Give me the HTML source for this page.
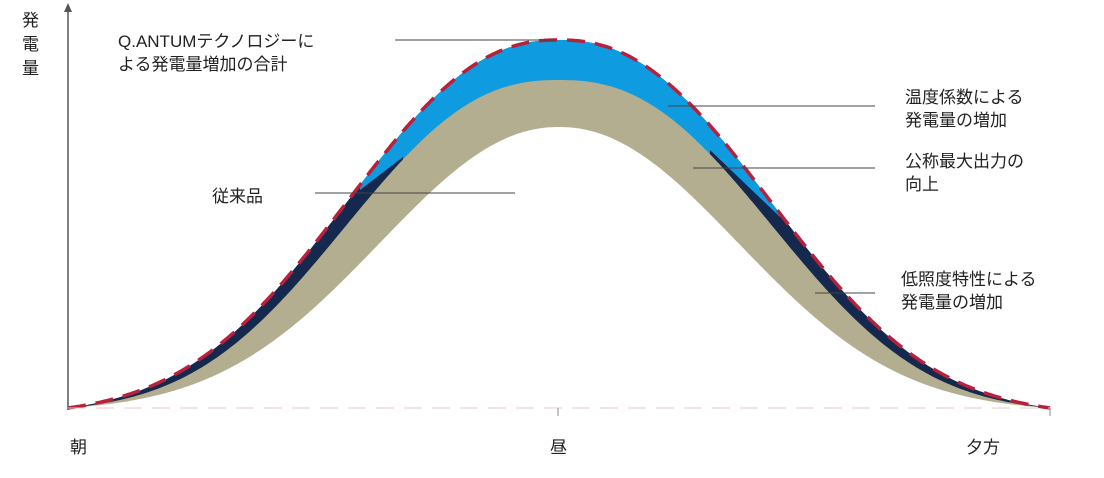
<!DOCTYPE html>
<html><head><meta charset="utf-8"><style>
body{margin:0;background:#fff;}
svg{display:block}
text{font-family:"Liberation Sans","Noto Sans CJK JP",sans-serif;font-size:17px;fill:#222;}
</style></head><body>
<svg id="s" width="1104" height="478" viewBox="0 0 1104 478">
<defs><clipPath id="cb"><polygon points="360,0 360,190 403,157 403,478 710,478 710,150 780,217 780,0"/></clipPath></defs>
<g id="g"></g>
<line x1="68" y1="10" x2="68" y2="410" stroke="#555" stroke-width="1.5"/>
<polygon points="64,12 68,3 72,12" fill="#555"/>
<line x1="68" y1="408" x2="1050" y2="408" stroke="#e8c8cc" stroke-width="1" stroke-dasharray="18 10"/>
<line x1="558" y1="408" x2="558" y2="416" stroke="#888"/>
<line x1="1050" y1="408" x2="1050" y2="416" stroke="#888"/>
<line x1="395" y1="40" x2="555" y2="40" stroke="#444"/>
<line x1="315" y1="193" x2="515" y2="193" stroke="#444"/>
<line x1="668" y1="106" x2="875" y2="106" stroke="#444"/>
<line x1="693" y1="168" x2="875" y2="168" stroke="#444"/>
<line x1="815" y1="293" x2="875" y2="293" stroke="#444"/>
<text x="22" y="26">発</text><text x="22" y="50">電</text><text x="22" y="74">量</text>
<text x="118" y="47">Q.ANTUMテクノロジーに</text>
<text x="118" y="70">よる発電量増加の合計</text>
<text x="212" y="202">従来品</text>
<text x="905" y="103">温度係数による</text>
<text x="905" y="126">発電量の増加</text>
<text x="905" y="167">公称最大出力の</text>
<text x="905" y="190">向上</text>
<text x="901" y="285">低照度特性による</text>
<text x="901" y="308">発電量の増加</text>
<text x="70" y="453">朝</text>
<text x="550" y="453">昼</text>
<text x="966" y="453">夕方</text>
</svg>
<script>
function f(h,a,p,d){var g=Math.exp(-Math.pow(Math.abs(d)/a,p)),e=Math.exp(-Math.pow(491/a,p));return Math.max(0,h*(g-e)/(1-e));}
function pts(h,a,p){var r=[];for(var x=68;x<=1050;x+=2){var d=x-559;r.push(x+","+(408-f(h,a,p,d)).toFixed(1));}return r;}
function area(h,a,p){return "M"+pts(h,a,p).join(" L")+" Z";}
var ns="http://www.w3.org/2000/svg",g=document.getElementById("g");
function add(tag,at){var e=document.createElementNS(ns,tag);for(var k in at)e.setAttribute(k,at[k]);g.appendChild(e);return e;}
add("path",{d:area(368,272,2.3),fill:"#14294d"});
add("path",{d:area(368,272,2.3),fill:"#0f9be0","clip-path":"url(#cb)"});
add("path",{d:area(328,268,2.4),fill:"#b3ae8f"});
add("path",{d:area(281,244,2.1),fill:"#ffffff"});
add("path",{d:"M"+pts(368,272,2.3).join(" L"),fill:"none",stroke:"#b8203c","stroke-width":"3.5","stroke-dasharray":"18 10"});
</script>
</body></html>
